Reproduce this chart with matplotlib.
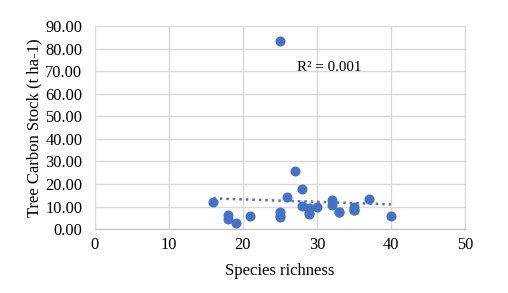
import numpy as np
import matplotlib.pyplot as plt

plt.rcParams['font.family'] = ['Liberation Serif', 'DejaVu Serif']

# species richness vs tree carbon stock (a few points overlap others)
richness = [16, 18, 18, 19, 21, 25, 25, 25, 25, 26, 27, 28, 28, 29, 29, 29, 30, 32, 32,
            33, 33, 35, 35, 35, 37, 40]
carbon = [12.1, 6.2, 4.4, 2.5, 5.8, 83.5, 7.5, 5.3, 6.0, 14.3, 25.7, 18.0, 10.2, 9.5,
          6.6, 7.0, 10.0, 12.8, 10.8, 7.8, 7.8, 10.0, 8.3, 8.3, 13.2, 6.0]
r2_label = 'R² = 0.001'

blue = '#4472C4'

fig = plt.figure(figsize=(5.08, 2.93), dpi=100)
ax = fig.add_axes([0.187, 0.218, 0.728, 0.693])

ax.scatter(richness, carbon, s=52, color=blue, zorder=3, linewidths=0)

# linear trend line
k, b = np.polyfit(richness, carbon, 1)
xs = np.array([min(richness), max(richness)])
ax.plot(xs, k * xs + b, color=blue, lw=1.8, linestyle=(0, (1, 1.6)), zorder=2)

ax.text(27.3, 71.5, r2_label, fontsize=10.8, va='center', ha='left')

ax.set_xlim(0, 50)
ax.set_ylim(0, 90)
ax.set_xticks(range(0, 51, 10))
ax.set_yticks(range(0, 91, 10))
ax.set_yticklabels(['%.2f' % v for v in range(0, 91, 10)])
ax.grid(True, color='#d9d9d9', lw=1)
ax.set_axisbelow(True)
for s in ax.spines.values():
    s.set_color('#d9d9d9')
ax.spines['bottom'].set_color('#bfbfbf')
ax.tick_params(length=0, labelsize=11.8)
ax.tick_params(axis='y', pad=9)
ax.tick_params(axis='x', pad=6)

ax.set_xlabel('Species richness', fontsize=12, labelpad=7)
ax.set_ylabel('Tree Carbon Stock (t ha-1)', fontsize=12, labelpad=2)

fig.savefig('out.png', dpi=100)
